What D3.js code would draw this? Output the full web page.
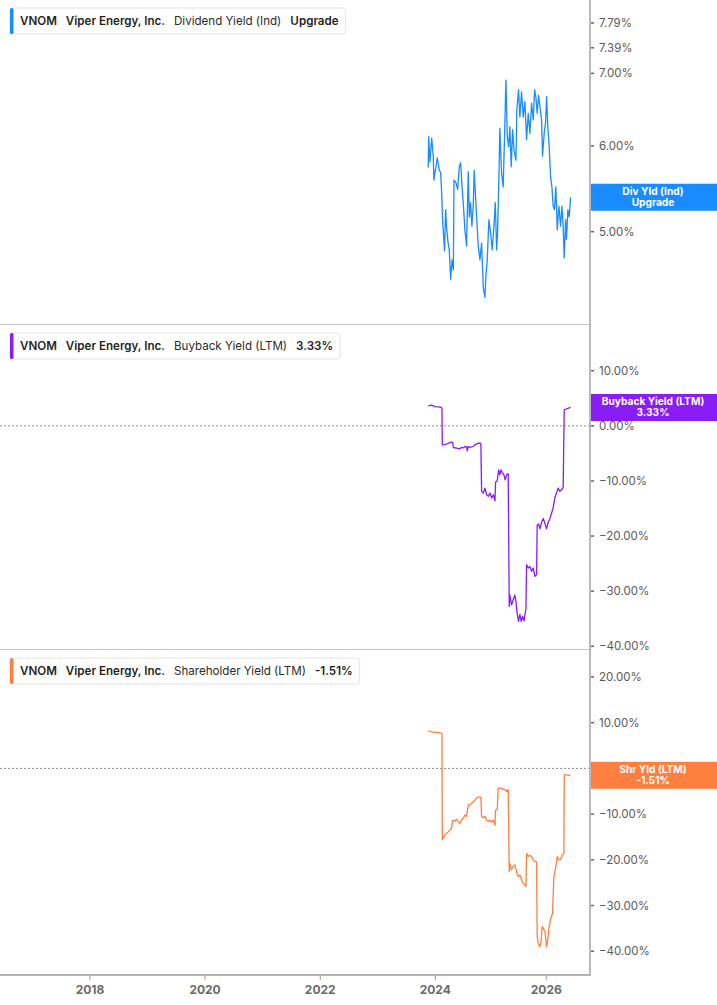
<!DOCTYPE html>
<html>
<head>
<meta charset="utf-8">
<script src="https://cdn.jsdelivr.net/npm/d3@7"></script>
<style>
  html, body { margin: 0; padding: 0; background: #fff; }
  svg { display: block; font-family: Inter, "Noto Sans", sans-serif; }
</style>
</head>
<body>
<svg id="chart" width="717" height="1005"></svg>
<script>
// ---------------- DATA ----------------
const ticker = "VNOM";
const company = "Viper Energy, Inc.";
const xTickYears = [2018, 2020, 2022, 2024, 2026];

const divYield = [
["2023-11-17",5.73],["2023-11-20",6.12],["2023-11-28",5.80],["2023-12-09",6.10],["2023-12-19",5.87],["2023-12-23",5.58],
["2024-01-05",5.74],["2024-01-14",5.85],["2024-01-27",5.70],["2024-02-05",5.67],["2024-02-11",5.47],["2024-02-18",5.13],
["2024-02-22",5.02],["2024-03-02",4.80],["2024-03-09",5.24],["2024-03-15",5.06],["2024-03-24",4.90],["2024-04-02",4.81],
["2024-04-11",4.52],["2024-04-20",4.71],["2024-04-29",4.61],["2024-05-03",5.58],["2024-05-16",5.55],["2024-05-27",5.47],
["2024-06-07",5.74],["2024-06-16",5.79],["2024-06-25",5.50],["2024-07-03",5.32],["2024-07-14",5.02],["2024-07-25",4.85],
["2024-08-05",5.68],["2024-08-12",5.16],["2024-08-20",5.32],["2024-08-29",5.06],["2024-09-07",5.28],["2024-09-13",5.70],
["2024-09-22",5.39],["2024-09-29",5.16],["2024-10-10",4.85],["2024-10-21",4.71],["2024-11-01",4.88],["2024-11-12",4.44],
["2024-11-23",4.35],["2024-11-29",4.55],["2024-12-08",4.71],["2024-12-19",5.13],["2024-12-30",4.99],["2025-01-10",4.81],
["2025-01-21",5.06],["2025-01-30",5.32],["2025-02-08",4.81],["2025-02-14",4.99],["2025-02-23",5.62],["2025-03-01",6.23],
["2025-03-12",5.67],["2025-03-23",5.50],["2025-04-01",6.12],["2025-04-10",6.90],["2025-04-19",6.12],["2025-04-28",5.99],
["2025-05-06",6.25],["2025-05-15",5.74],["2025-05-24",6.21],["2025-06-02",5.95],["2025-06-15",5.82],["2025-06-21",6.48],
["2025-07-02",6.76],["2025-07-11",6.38],["2025-07-22",6.73],["2025-08-02",6.38],["2025-08-13",6.59],["2025-08-24",6.08],
["2025-09-04",6.43],["2025-09-15",6.16],["2025-09-26",6.57],["2025-10-07",6.34],["2025-10-16",6.76],["2025-10-24",6.66],
["2025-11-02",6.43],["2025-11-11",6.68],["2025-11-20",6.52],["2025-12-01",6.34],["2025-12-07",5.87],["2025-12-18",6.16],
["2025-12-27",6.30],["2026-01-03",6.66],["2026-01-11",6.25],["2026-01-20",5.99],["2026-01-29",5.62],["2026-02-07",5.50],
["2026-02-15",5.28],["2026-02-24",5.24],["2026-03-05",5.50],["2026-03-14",5.02],["2026-03-25",5.28],["2026-04-05",5.06],
["2026-04-14",5.28],["2026-04-22",5.06],["2026-04-29",4.73],["2026-05-08",5.13],["2026-05-14",4.92],["2026-05-23",5.24],
["2026-06-01",5.16],["2026-06-10",5.38]
];

const buybackYield = [
["2023-11-17",3.63],["2023-12-09",3.75],["2023-12-30",3.5],["2024-01-21",3.45],["2024-02-11",3.33],["2024-02-14",3.1],
["2024-02-16",-3.45],["2024-03-04",-3.4],["2024-03-15",-3.3],["2024-04-02",-3.1],["2024-04-17",-2.97],["2024-04-24",-3.0],
["2024-04-29",-3.93],["2024-05-20",-4.05],["2024-06-11",-4.17],["2024-06-22",-3.9],["2024-07-03",-4.0],["2024-07-14",-3.75],
["2024-07-25",-3.8],["2024-07-29",-4.54],["2024-08-05",-3.75],["2024-08-16",-3.93],["2024-09-07",-3.75],["2024-09-18",-3.45],
["2024-10-10",-3.15],["2024-10-27",-3.2],["2024-11-01",-11.9],["2024-11-12",-12.2],["2024-11-23",-11.3],["2024-12-04",-12.5],
["2024-12-15",-12.8],["2024-12-26",-12.2],["2025-01-06",-13.1],["2025-01-17",-12.5],["2025-01-28",-13.6],["2025-02-01",-10.2],
["2025-02-12",-10.0],["2025-02-21",-8.0],["2025-03-01",-8.9],["2025-03-08",-8.0],["2025-03-19",-8.6],["2025-03-28",-8.9],
["2025-04-05",-9.8],["2025-04-14",-8.9],["2025-04-25",-8.7],["2025-05-02",-32.8],["2025-05-06",-30.7],["2025-05-17",-32.5],
["2025-05-28",-31.6],["2025-06-08",-30.7],["2025-06-15",-31.9],["2025-06-23",-34.0],["2025-07-02",-35.5],["2025-07-11",-34.2],
["2025-07-20",-35.5],["2025-07-29",-34.6],["2025-08-07",-35.4],["2025-08-15",-34.0],["2025-08-20",-33.1],["2025-08-24",-25.2],
["2025-09-04",-25.8],["2025-09-15",-25.5],["2025-09-26",-26.4],["2025-10-07",-25.8],["2025-10-18",-27.3],["2025-10-29",-27.0],
["2025-11-02",-18.0],["2025-11-11",-17.8],["2025-11-20",-18.7],["2025-12-01",-17.5],["2025-12-12",-16.8],["2025-12-23",-17.7],
["2026-01-03",-18.7],["2026-01-14",-17.5],["2026-01-25",-16.8],["2026-02-04",-15.9],["2026-02-15",-14.9],["2026-02-26",-13.1],
["2026-03-09",-12.2],["2026-03-20",-11.3],["2026-03-31",-11.9],["2026-04-11",-11.6],["2026-04-22",-11.2],["2026-04-29",2.9],
["2026-05-14",3.1],["2026-06-10",3.33]
];

const shareholderYield = [
["2023-11-17",8.2],["2023-12-09",8.0],["2024-01-10",7.9],["2024-02-11",7.7],["2024-02-14",7.5],["2024-02-16",-15.6],
["2024-02-22",-15.3],["2024-03-04",-14.6],["2024-03-15",-14.2],["2024-03-26",-13.9],["2024-04-06",-13.5],["2024-04-17",-13.1],
["2024-04-24",-11.3],["2024-05-09",-11.6],["2024-05-20",-11.1],["2024-05-31",-11.6],["2024-06-11",-12.0],["2024-06-22",-11.3],
["2024-07-03",-10.9],["2024-07-14",-10.2],["2024-07-25",-10.5],["2024-08-05",-8.0],["2024-08-16",-8.0],["2024-08-27",-7.6],
["2024-09-07",-7.3],["2024-09-18",-6.9],["2024-09-29",-6.5],["2024-10-10",-6.3],["2024-10-27",-6.3],["2024-11-01",-10.5],
["2024-11-12",-10.8],["2024-11-23",-10.5],["2024-12-04",-11.3],["2024-12-15",-11.6],["2024-12-26",-11.3],["2025-01-06",-11.8],
["2025-01-17",-11.3],["2025-01-28",-12.4],["2025-02-01",-9.1],["2025-02-12",-9.0],["2025-02-18",-4.3],["2025-03-01",-4.3],
["2025-03-12",-4.3],["2025-03-23",-4.6],["2025-04-03",-4.6],["2025-04-14",-5.1],["2025-04-25",-4.6],["2025-05-02",-22.6],
["2025-05-06",-20.8],["2025-05-17",-22.2],["2025-05-28",-21.5],["2025-06-08",-21.1],["2025-06-19",-22.6],["2025-06-30",-23.7],
["2025-07-11",-23.3],["2025-07-22",-24.4],["2025-08-02",-25.1],["2025-08-13",-25.5],["2025-08-20",-25.9],["2025-08-24",-18.6],
["2025-09-04",-19.3],["2025-09-15",-19.0],["2025-09-26",-19.3],["2025-10-07",-20.0],["2025-10-18",-20.4],["2025-10-29",-20.4],
["2025-11-02",-36.8],["2025-11-09",-38.3],["2025-11-20",-39.0],["2025-11-27",-37.9],["2025-12-05",-34.6],["2025-12-12",-34.9],
["2025-12-23",-35.7],["2026-01-03",-39.0],["2026-01-09",-37.9],["2026-01-20",-34.6],["2026-01-31",-32.8],["2026-02-11",-31.7],
["2026-02-20",-23.7],["2026-03-03",-21.9],["2026-03-14",-19.3],["2026-03-25",-20.0],["2026-04-05",-20.0],["2026-04-16",-18.9],
["2026-04-27",-18.6],["2026-04-29",-1.42],["2026-05-14",-1.42],["2026-06-10",-1.51]
];

const divTicks = [5, 6, 7, 7.39, 7.79];
const buybackTicks = [10, 0, -10, -20, -30, -40];
const shareholderTicks = [20, 10, 0, -10, -20, -30, -40];

const panels = [
  { name: "Dividend Yield (Ind)", legendValue: "Upgrade", badge: ["Div Yld (Ind)", "Upgrade"],
    data: divYield, ticks: divTicks, color: "#1a8cff", log: true, domain: [4.11, 8.18], top: 0, bottom: 324, zero: false, last: 5.38 },
  { name: "Buyback Yield (LTM)", legendValue: "3.33%", badge: ["Buyback Yield (LTM)", "3.33%"],
    data: buybackYield, ticks: buybackTicks, color: "#8a1cf5", log: false, domain: [-40.5, 18.3], top: 325, bottom: 649, zero: true, last: 3.33 },
  { name: "Shareholder Yield (LTM)", legendValue: "-1.51%", badge: ["Shr Yld (LTM)", "-1.51%"],
    data: shareholderYield, ticks: shareholderTicks, color: "#ff7f40", log: false, domain: [-45.2, 25.9], top: 650, bottom: 975, zero: true, last: -1.51 }
];

// ---------------- CHART ----------------
const svg = d3.select("#chart");
const plotRight = 590;
const parse = d3.utcParse("%Y-%m-%d");

const x = d3.scaleUtc()
  .domain([new Date(Date.UTC(2018,0,1)), new Date(Date.UTC(2024,0,1)), new Date(Date.UTC(2026,0,1))])
  .range([90, 435.3, 546.3]);

const fmt = v => d3.format(".2f")(v) + "%";

panels.forEach((p, i) => {
  const y = (p.log ? d3.scaleLog() : d3.scaleLinear()).domain(p.domain).range([p.bottom, p.top]);
  const g = svg.append("g");

  g.append("clipPath").attr("id", "clip" + i)
    .append("rect").attr("x", 0).attr("y", p.top).attr("width", plotRight).attr("height", p.bottom - p.top);

  if (i < 2) {
    g.append("line").attr("x1", 0).attr("x2", plotRight).attr("y1", p.bottom + 0.5).attr("y2", p.bottom + 0.5)
      .attr("stroke", "#c4c4c4").attr("stroke-width", 1);
  }

  if (p.zero) {
    g.append("line").attr("x1", 0).attr("x2", plotRight + 4)
      .attr("y1", y(0)).attr("y2", y(0))
      .attr("stroke", "#8a8a8a").attr("stroke-width", 1).attr("stroke-dasharray", "2,2");
  }

  const axisG = g.append("g");
  p.ticks.forEach(t => {
    axisG.append("line").attr("x1", plotRight + 1).attr("x2", plotRight + 4)
      .attr("y1", y(t)).attr("y2", y(t)).attr("stroke", "#666").attr("stroke-width", 1.5);
    axisG.append("text").attr("x", plotRight + 9).attr("y", y(t)).attr("dy", "0.36em")
      .attr("font-size", 11.5).attr("fill", "#5a5a5a").text(fmt(t));
  });

  const line = d3.line().x(d => x(parse(d[0]))).y(d => y(d[1]));
  g.append("path").datum(p.data).attr("clip-path", `url(#clip${i})`)
    .attr("d", line).attr("fill", "none").attr("stroke", p.color)
    .attr("stroke-width", 1.3).attr("stroke-linejoin", "round");

  // legend
  const lg = g.append("g").attr("transform", `translate(10,${p.top + 8})`);
  const bg = lg.append("rect").attr("x", 0).attr("y", 0).attr("height", 26).attr("rx", 3)
    .attr("fill", "#fff").attr("stroke", "#e4e4e4");
  lg.append("rect").attr("x", 0).attr("y", 0).attr("width", 3.5).attr("height", 26).attr("rx", 1.5).attr("fill", p.color);
  const items = [[ticker, 600], [company, 600], [p.name, 400], [p.legendValue, 600]];
  let cx = 10;
  items.forEach(([t, w]) => {
    const tx = lg.append("text").attr("x", cx).attr("y", 17).attr("font-size", 11.6).attr("font-weight", w)
      .attr("fill", w === 600 ? "#1f1f1f" : "#2a2a2a").text(t);
    cx += tx.node().getComputedTextLength() + 9;
  });
  bg.attr("width", cx - 2);

  // value badge
  const yc = y(p.last);
  const bh = 27;
  g.append("rect").attr("x", plotRight).attr("y", yc - bh / 2).attr("width", 717 - plotRight).attr("height", bh)
    .attr("fill", p.color);
  p.badge.forEach((t, k) => {
    g.append("text").attr("x", 653).attr("y", yc - 2.5 + k * 11.5).attr("text-anchor", "middle")
      .attr("font-size", 10.2).attr("font-weight", 700).attr("fill", "#fff").text(t);
  });
});

svg.append("line").attr("x1", plotRight).attr("x2", plotRight).attr("y1", 0).attr("y2", 976)
  .attr("stroke", "#b9b9b9").attr("stroke-width", 2);

svg.append("line").attr("x1", 0).attr("x2", plotRight + 1).attr("y1", 975).attr("y2", 975)
  .attr("stroke", "#b3b3b3").attr("stroke-width", 2);
xTickYears.forEach(yr => {
  const xx = x(new Date(Date.UTC(yr, 0, 1)));
  svg.append("line").attr("x1", xx).attr("x2", xx).attr("y1", 976).attr("y2", 980)
    .attr("stroke", "#999").attr("stroke-width", 1);
  svg.append("text").attr("x", xx).attr("y", 994).attr("text-anchor", "middle")
    .attr("font-size", 12).attr("font-weight", 700).attr("fill", "#6a6a6a").text(yr);
});
</script>
</body>
</html>
